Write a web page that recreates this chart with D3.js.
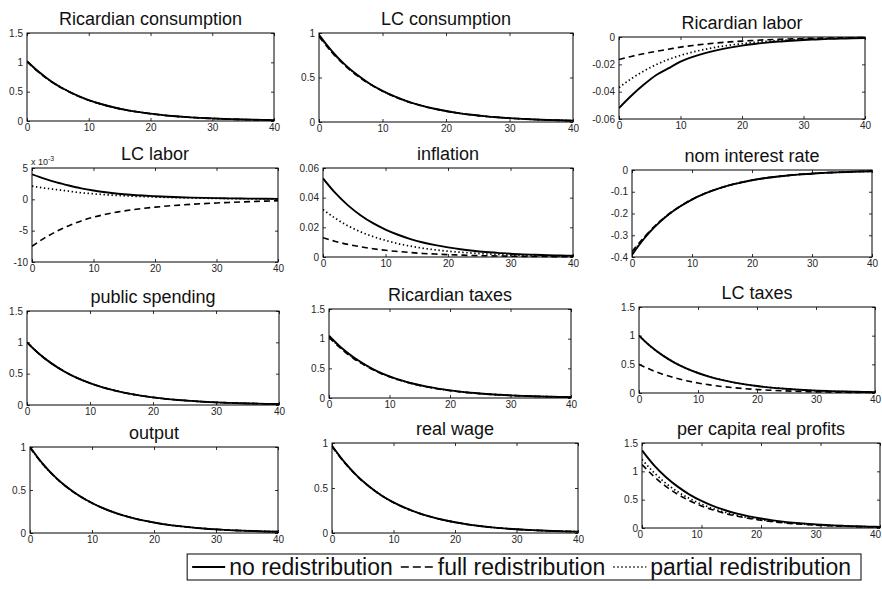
<!DOCTYPE html>
<html><head><meta charset="utf-8">
<script src="https://cdn.jsdelivr.net/npm/d3@7"></script>
<style>
body{margin:0;background:#fff}
svg{display:block}
text{font-family:"Liberation Sans",Arial,Helvetica,sans-serif}
</style>
</head><body>
<svg id="chart" width="882" height="589"></svg>
<script>
// ---------------- DATA ----------------
const periods = [0,2,4,6,8,10,12,14,16,18,20,22,24,26,28,30,32,34,36,38,40];
const xTickValues = [0,10,20,30,40];
const seriesNames = ["no redistribution","full redistribution","partial redistribution"];

const titles = ["Ricardian consumption","LC consumption","Ricardian labor","LC labor","inflation","nom interest rate",
  "public spending","Ricardian taxes","LC taxes","output","real wage","per capita real profits"];

const ricConsNo      = [1.02,0.83,0.67,0.545,0.44,0.355,0.29,0.235,0.19,0.155,0.125,0.10,0.082,0.066,0.054,0.044,0.035,0.029,0.023,0.019,0.015];
const ricConsFull    = [1.01,0.82,0.665,0.54,0.437,0.353,0.287,0.233,0.188,0.153,0.124,0.10,0.081,0.066,0.053,0.043,0.035,0.028,0.023,0.018,0.015];
const ricConsPartial = [1.015,0.825,0.668,0.542,0.438,0.354,0.288,0.234,0.189,0.154,0.124,0.10,0.081,0.066,0.053,0.043,0.035,0.028,0.023,0.018,0.015];

const lcConsNo      = [0.98,0.80,0.65,0.53,0.43,0.35,0.285,0.23,0.187,0.152,0.123,0.10,0.081,0.066,0.053,0.043,0.035,0.028,0.023,0.019,0.015];
const lcConsFull    = [0.96,0.785,0.64,0.522,0.425,0.346,0.282,0.228,0.185,0.151,0.122,0.099,0.08,0.065,0.053,0.043,0.035,0.028,0.023,0.018,0.015];
const lcConsPartial = [0.97,0.79,0.645,0.526,0.428,0.348,0.283,0.229,0.186,0.151,0.122,0.10,0.081,0.065,0.053,0.043,0.035,0.028,0.023,0.018,0.015];

const ricLaborNo      = [-0.052,-0.043,-0.035,-0.028,-0.023,-0.018,-0.0145,-0.0118,-0.0096,-0.0078,-0.0063,-0.0051,-0.0041,-0.0033,-0.0027,-0.0022,-0.0018,-0.0014,-0.0012,-0.0009,-0.0008];
const ricLaborFull    = [-0.0165,-0.0142,-0.0122,-0.0105,-0.009,-0.0074,-0.0062,-0.0052,-0.0043,-0.0036,-0.003,-0.0025,-0.002,-0.0017,-0.0014,-0.0011,-0.0009,-0.0008,-0.0006,-0.0005,-0.0004];
const ricLaborPartial = [-0.037,-0.0305,-0.025,-0.0203,-0.0165,-0.0135,-0.011,-0.009,-0.0073,-0.006,-0.0049,-0.004,-0.0032,-0.0026,-0.0021,-0.0017,-0.0014,-0.0011,-0.0009,-0.0007,-0.0006];

const lcLaborNo      = [0.0040,0.0033,0.0027,0.0022,0.00175,0.0014,0.00112,0.0009,0.00073,0.0006,0.0005,0.00041,0.00034,0.00028,0.00023,0.00019,0.00016,0.00013,0.00011,0.00009,0.00007];
const lcLaborFull    = [-0.0075,-0.0062,-0.0051,-0.0042,-0.00345,-0.00285,-0.00238,-0.002,-0.0017,-0.00145,-0.00125,-0.00107,-0.00092,-0.00079,-0.00068,-0.00058,-0.0005,-0.00042,-0.00035,-0.00028,-0.00022];
const lcLaborPartial = [0.0021,0.0018,0.00155,0.0013,0.00105,0.00088,0.00074,0.00062,0.00052,0.00044,0.00037,0.00031,0.00026,0.00021,0.00018,0.00015,0.00012,0.0001,0.00008,0.00007,0.00005];

const inflationNo      = [0.053,0.043,0.0348,0.0282,0.0228,0.0185,0.015,0.0121,0.0098,0.008,0.0065,0.0052,0.0042,0.0034,0.0028,0.0022,0.0018,0.0015,0.0012,0.001,0.0008];
const inflationFull    = [0.013,0.0105,0.0085,0.0069,0.0056,0.0045,0.0037,0.003,0.0024,0.002,0.0016,0.0013,0.001,0.00085,0.0007,0.00055,0.00045,0.00036,0.0003,0.00024,0.0002];
const inflationPartial = [0.032,0.026,0.021,0.017,0.0138,0.0112,0.009,0.0073,0.0059,0.0048,0.0039,0.0032,0.0026,0.0021,0.0017,0.0013,0.0011,0.0009,0.0007,0.0006,0.0005];

const nomRateNo      = [-0.39,-0.316,-0.256,-0.207,-0.168,-0.136,-0.11,-0.089,-0.072,-0.059,-0.047,-0.038,-0.031,-0.025,-0.02,-0.017,-0.013,-0.011,-0.009,-0.007,-0.006];
const nomRateFull    = [-0.375,-0.31,-0.252,-0.205,-0.167,-0.135,-0.109,-0.089,-0.072,-0.058,-0.047,-0.038,-0.031,-0.025,-0.02,-0.016,-0.013,-0.011,-0.009,-0.007,-0.006];
const nomRatePartial = [-0.383,-0.313,-0.254,-0.206,-0.167,-0.135,-0.11,-0.089,-0.072,-0.058,-0.047,-0.038,-0.031,-0.025,-0.02,-0.016,-0.013,-0.011,-0.009,-0.007,-0.006];

const spendingNo      = [1.0,0.81,0.656,0.531,0.43,0.349,0.282,0.229,0.185,0.15,0.122,0.098,0.08,0.065,0.052,0.042,0.034,0.028,0.023,0.018,0.015];
const spendingFull    = [1.0,0.81,0.656,0.531,0.43,0.349,0.282,0.229,0.185,0.15,0.122,0.098,0.08,0.065,0.052,0.042,0.034,0.028,0.023,0.018,0.015];
const spendingPartial = [1.0,0.81,0.656,0.531,0.43,0.349,0.282,0.229,0.185,0.15,0.122,0.098,0.08,0.065,0.052,0.042,0.034,0.028,0.023,0.018,0.015];

const ricTaxesNo      = [1.05,0.85,0.69,0.56,0.45,0.366,0.296,0.24,0.195,0.158,0.128,0.103,0.084,0.068,0.055,0.044,0.036,0.029,0.024,0.019,0.015];
const ricTaxesFull    = [1.02,0.83,0.67,0.545,0.44,0.357,0.289,0.234,0.19,0.154,0.125,0.10,0.082,0.066,0.054,0.043,0.035,0.028,0.023,0.019,0.015];
const ricTaxesPartial = [1.035,0.84,0.68,0.552,0.445,0.361,0.292,0.237,0.192,0.156,0.126,0.102,0.083,0.067,0.054,0.044,0.035,0.029,0.023,0.019,0.015];

const lcTaxesNo      = [1.0,0.81,0.656,0.531,0.43,0.349,0.282,0.229,0.185,0.15,0.122,0.098,0.08,0.065,0.052,0.042,0.034,0.028,0.023,0.018,0.015];
const lcTaxesFull    = [0.5,0.405,0.328,0.266,0.215,0.174,0.141,0.114,0.093,0.075,0.061,0.049,0.04,0.032,0.026,0.021,0.017,0.014,0.011,0.009,0.007];
const lcTaxesPartial = [1.0,0.81,0.656,0.531,0.43,0.349,0.282,0.229,0.185,0.15,0.122,0.098,0.08,0.065,0.052,0.042,0.034,0.028,0.023,0.018,0.015];

const outputNo      = [1.0,0.81,0.656,0.531,0.43,0.349,0.282,0.229,0.185,0.15,0.122,0.098,0.08,0.065,0.052,0.042,0.034,0.028,0.023,0.018,0.015];
const outputFull    = [0.99,0.805,0.652,0.529,0.429,0.348,0.282,0.228,0.185,0.15,0.122,0.098,0.08,0.065,0.052,0.042,0.034,0.028,0.023,0.018,0.015];
const outputPartial = [0.995,0.807,0.654,0.53,0.43,0.348,0.282,0.229,0.185,0.15,0.122,0.098,0.08,0.065,0.052,0.042,0.034,0.028,0.023,0.018,0.015];

const wageNo      = [0.97,0.79,0.64,0.52,0.42,0.34,0.276,0.224,0.181,0.147,0.119,0.096,0.078,0.063,0.051,0.041,0.034,0.027,0.022,0.018,0.015];
const wageFull    = [0.96,0.785,0.636,0.517,0.418,0.339,0.275,0.223,0.18,0.146,0.119,0.096,0.078,0.063,0.051,0.041,0.033,0.027,0.022,0.018,0.014];
const wagePartial = [0.965,0.787,0.638,0.518,0.419,0.34,0.275,0.223,0.18,0.147,0.119,0.096,0.078,0.063,0.051,0.041,0.033,0.027,0.022,0.018,0.014];

const profitsNo      = [1.37,1.11,0.9,0.73,0.59,0.478,0.387,0.313,0.254,0.206,0.167,0.135,0.109,0.089,0.072,0.058,0.047,0.038,0.031,0.025,0.02];
const profitsFull    = [1.12,0.91,0.735,0.595,0.482,0.39,0.316,0.256,0.208,0.168,0.136,0.11,0.089,0.072,0.059,0.047,0.038,0.031,0.025,0.021,0.017];
const profitsPartial = [1.21,0.98,0.79,0.64,0.52,0.42,0.34,0.277,0.224,0.182,0.147,0.119,0.096,0.078,0.063,0.051,0.041,0.034,0.027,0.022,0.018];

// y tick values and labels per panel
const yTicks0to15 = [0,0.5,1,1.5];
const yLabels0to15 = ["0","0.5","1","1.5"];
const yTicks0to1 = [0,0.5,1];
const yLabels0to1 = ["0","0.5","1"];
const yTicksRicLabor = [-0.06,-0.04,-0.02,0];
const yLabelsRicLabor = ["-0.06","-0.04","-0.02","0"];
const yTicksLcLabor = [-0.01,-0.005,0,0.005];
const yLabelsLcLabor = ["-10","-5","0","5"];
const yTicksInflation = [0,0.02,0.04,0.06];
const yLabelsInflation = ["0","0.02","0.04","0.06"];
const yTicksNomRate = [-0.4,-0.3,-0.2,-0.1,0];
const yLabelsNomRate = ["-0.4","-0.3","-0.2","-0.1","0"];

// ---------------- LAYOUT ----------------
const panels = [
  {title:titles[0], series:[ricConsNo,ricConsFull,ricConsPartial], domain:[0,1.5], ticks:yTicks0to15, labels:yLabels0to15, box:[27,33,274,121]},
  {title:titles[1], series:[lcConsNo,lcConsFull,lcConsPartial], domain:[0,1], ticks:yTicks0to1, labels:yLabels0to1, box:[319,33,573,122]},
  {title:titles[2], series:[ricLaborNo,ricLaborFull,ricLaborPartial], domain:[-0.06,0], ticks:yTicksRicLabor, labels:yLabelsRicLabor, box:[619,37,865,119]},
  {title:titles[3], series:[lcLaborNo,lcLaborFull,lcLaborPartial], domain:[-0.01,0.005], ticks:yTicksLcLabor, labels:yLabelsLcLabor, box:[32,168,278,262], exp:true},
  {title:titles[4], series:[inflationNo,inflationFull,inflationPartial], domain:[0,0.06], ticks:yTicksInflation, labels:yLabelsInflation, box:[323,168,573,257]},
  {title:titles[5], series:[nomRateNo,nomRateFull,nomRatePartial], domain:[-0.4,0], ticks:yTicksNomRate, labels:yLabelsNomRate, box:[632,170,872,257]},
  {title:titles[6], series:[spendingNo,spendingFull,spendingPartial], domain:[0,1.5], ticks:yTicks0to15, labels:yLabels0to15, box:[27,311,279,405]},
  {title:titles[7], series:[ricTaxesNo,ricTaxesFull,ricTaxesPartial], domain:[0,1.5], ticks:yTicks0to15, labels:yLabels0to15, box:[329,309,571,398]},
  {title:titles[8], series:[lcTaxesNo,lcTaxesFull,lcTaxesPartial], domain:[0,1.5], ticks:yTicks0to15, labels:yLabels0to15, box:[639,307,875,393]},
  {title:titles[9], series:[outputNo,outputFull,outputPartial], domain:[0,1], ticks:yTicks0to1, labels:yLabels0to1, box:[30,447,278,533]},
  {title:titles[10], series:[wageNo,wageFull,wagePartial], domain:[0,1], ticks:yTicks0to1, labels:yLabels0to1, box:[332,443,578,533]},
  {title:titles[11], series:[profitsNo,profitsFull,profitsPartial], domain:[0,1.5], ticks:yTicks0to15, labels:yLabels0to15, box:[642,443,880,528]}
];

const lineStyles = [
  {width:1.9, dash:null},
  {width:1.6, dash:"6,4"},
  {width:1.7, dash:"1.4,2.6"}
];

const svg = d3.select("#chart");
svg.append("rect").attr("width",882).attr("height",589).attr("fill","#fff");

panels.forEach(p => {
  const [x0,y0,x1,y1] = p.box;
  const x = d3.scaleLinear().domain([0,40]).range([x0,x1]);
  const y = d3.scaleLinear().domain(p.domain).range([y1,y0]);
  const g = svg.append("g");

  const clipId = "clip" + x0 + "_" + y0;
  svg.append("clipPath").attr("id",clipId).append("rect")
    .attr("x",x0).attr("y",y0-1).attr("width",x1-x0).attr("height",y1-y0+2);
  const line = d3.line().x((d,i)=>x(periods[i])).y(d=>y(d)).curve(d3.curveMonotoneX);
  p.series.forEach((s,k) => {
    const st = lineStyles[k];
    g.append("path").attr("d",line(s)).attr("fill","none").attr("stroke","#000")
      .attr("stroke-width",st.width).attr("stroke-dasharray",st.dash)
      .attr("clip-path","url(#"+clipId+")");
  });

  const ax = g.append("g").attr("transform",`translate(0,${y1})`)
    .call(d3.axisBottom(x).tickValues(xTickValues).tickFormat(d3.format("d")).tickSizeInner(-3).tickSizeOuter(0).tickPadding(3));
  const axT = g.append("g").attr("transform",`translate(0,${y0})`)
    .call(d3.axisTop(x).tickValues(xTickValues).tickFormat("").tickSizeInner(-3).tickSizeOuter(0));
  const ay = g.append("g").attr("transform",`translate(${x0},0)`)
    .call(d3.axisLeft(y).tickValues(p.ticks).tickFormat((d,i)=>p.labels[i]).tickSizeInner(-3).tickSizeOuter(0).tickPadding(4));
  const ayR = g.append("g").attr("transform",`translate(${x1},0)`)
    .call(d3.axisRight(y).tickValues(p.ticks).tickFormat("").tickSizeInner(-3).tickSizeOuter(0));
  [ax,axT,ay,ayR].forEach(a => {
    a.select(".domain").remove();
    a.selectAll("line").attr("stroke","#000").attr("stroke-width",0.8);
    a.selectAll("text").attr("fill","#262626").attr("font-size",10)
      .attr("font-family","'Liberation Sans',Arial,sans-serif");
  });
  // keep the last x label inside the page
  ax.selectAll("text").each(function(){
    const bb = this.getBBox();
    const right = x1 + bb.x + bb.width;
    if (right > 881) d3.select(this).attr("dx", 881 - right);
  });
  g.append("rect").attr("x",x0).attr("y",y0).attr("width",x1-x0).attr("height",y1-y0)
    .attr("fill","none").attr("stroke","#000").attr("stroke-width",1);

  g.append("text").attr("x",(x0+x1)/2).attr("y",y0-8).attr("text-anchor","middle")
    .attr("font-size",18).attr("fill","#111").text(p.title);

  if (p.exp) {
    const t = g.append("text").attr("x",x0-1).attr("y",y0-3).attr("font-size",9).attr("fill","#262626");
    t.append("tspan").text("x 10");
    t.append("tspan").attr("dy",-4).attr("font-size",7).text("-3");
  }
});

// ---------------- LEGEND ----------------
const legRight = 861, legTop = 554, legBottom = 580;
const lg = svg.append("g");
const fs = 23;
const widths = seriesNames.map(n => {
  const t = lg.append("text").attr("font-size",fs).text(n);
  const w = t.node().getComputedTextLength(); t.remove(); return w;
});
const sampleW = 33, gapA = 4, gapB = 8, padL = 5, padR = 10;
const totalW = padL + widths.reduce((a,w)=>a+sampleW+gapA+w,0) + gapB*2 + padR;
const legLeft = legRight - totalW;
lg.append("rect").attr("x",legLeft).attr("y",legTop).attr("width",totalW).attr("height",legBottom-legTop)
  .attr("fill","#fff").attr("stroke","#000").attr("stroke-width",1);
let cx = legLeft + padL;
const cy = (legTop+legBottom)/2;
seriesNames.forEach((n,k) => {
  const st = lineStyles[k];
  lg.append("line").attr("x1",cx).attr("x2",cx+sampleW).attr("y1",cy).attr("y2",cy)
    .attr("stroke","#000").attr("stroke-width",st.width).attr("stroke-dasharray",k===1?"8,4":st.dash);
  cx += sampleW + gapA;
  lg.append("text").attr("x",cx).attr("y",cy+8).attr("font-size",fs).attr("fill","#111").text(n);
  cx += widths[k] + gapB;
});
</script>
</body></html>
